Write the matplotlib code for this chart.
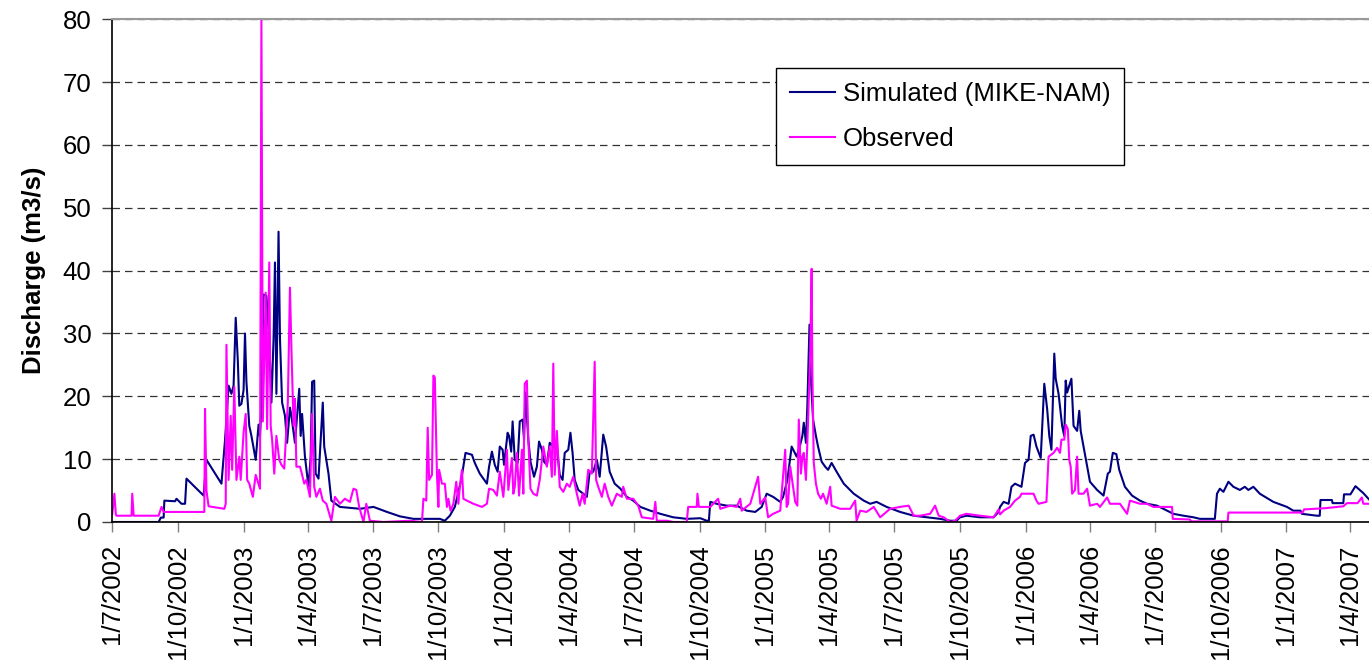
import numpy as np
import matplotlib.pyplot as plt
import matplotlib.dates as mdates
from matplotlib.ticker import FuncFormatter

plt.rcParams["font.family"] = ["Liberation Sans", "DejaVu Sans"]

# =========================
# DATA (day offset from START, discharge m3/s)
# =========================
START = np.datetime64("2002-07-01")
END_DAY = 1761

sim_points = [
    (0, 0), (65, 0), (68, 0.7), (72, 0.7), (73, 3.4), (88, 3.3), (90, 3.7), (97, 2.9), (102, 2.9),
    (104, 6.9), (128, 4.2), (132, 9.9), (153, 6.1), (158, 13), (163, 21.7), (167, 20.4), (170, 21.7),
    (173, 32.5), (176, 25.5), (178, 18.5), (181, 18.8), (184, 21), (186, 30), (188, 22.3), (192, 15.3),
    (195, 13.7), (201, 9.9), (205, 15.5), (207, 13.7), (209, 18.5), (212, 36.2), (216, 36), (220, 29),
    (223, 19), (226, 29), (228, 41.3), (230, 20.4), (233, 46.2), (235, 29.2), (238, 19), (242, 16.9),
    (245, 12.6), (249, 18.2), (251, 16.9), (256, 12.6), (262, 21.2), (264, 13.7), (266, 17.2),
    (270, 10.4), (275, 5.6), (278, 10.4), (280, 22.3), (283, 22.5), (285, 7.7), (289, 6.9), (295, 19),
    (297, 12), (303, 7.7), (307, 3.4), (319, 2.4), (347, 2.1), (366, 2.4), (385, 1.6), (403, 0.9),
    (422, 0.5), (459, 0.5), (466, 0.2), (473, 1.0), (480, 2.4), (489, 6.7), (492, 8.8), (495, 11),
    (504, 10.7), (508, 9.4), (515, 7.7), (525, 6.1), (528, 8.8), (532, 11.2), (536, 9.1), (540, 8),
    (543, 12), (547, 11.5), (549, 9.1), (554, 14.2), (556, 13.7), (559, 11.2), (561, 16), (564, 9.9),
    (568, 9.4), (571, 16), (575, 16.3), (577, 13.1), (579, 20.6), (583, 13.1), (586, 9.6), (591, 7.2),
    (595, 8.8), (598, 12.8), (602, 11.5), (605, 9.6), (609, 9.1), (613, 12.6), (618, 12), (623, 12),
    (627, 7.5), (631, 6.7), (634, 11), (639, 11.5), (642, 14.2), (645, 11), (648, 6.7), (653, 5.1),
    (660, 4.5), (665, 4), (669, 8), (674, 8), (679, 9.9), (683, 7.2), (688, 13.9), (692, 12), (697, 8),
    (704, 6.1), (712, 5.3), (721, 4), (730, 3.4), (740, 2.4), (754, 1.8), (768, 1.3), (786, 0.75),
    (805, 0.5), (824, 0.6), (833, 0.2), (836, 0.2), (838, 3.2), (847, 2.9), (861, 2.6), (875, 2.6),
    (889, 1.8), (901, 1.6), (910, 2.4), (917, 4.5), (926, 4), (936, 3.2), (940, 4), (946, 6.7),
    (952, 12), (959, 10.4), (964, 12.3), (967, 13.7), (969, 15.8), (972, 12.6), (974, 18.5),
    (977, 31.4), (979, 22.8), (982, 16.3), (986, 13.7), (989, 12), (994, 9.6), (999, 8.8), (1003, 8.3),
    (1008, 9.4), (1015, 8), (1025, 6.1), (1039, 4.5), (1053, 3.4), (1062, 2.9), (1071, 3.2),
    (1085, 2.4), (1104, 1.6), (1123, 1.0), (1141, 0.75), (1160, 0.5), (1174, 0.2), (1183, 0.2),
    (1188, 0.75), (1197, 1.0), (1216, 0.75), (1235, 0.75), (1242, 1.6), (1244, 2.4), (1249, 3.2),
    (1256, 2.9), (1260, 5.6), (1265, 6.1), (1274, 5.6), (1279, 9.4), (1284, 9.9), (1287, 13.7),
    (1291, 13.9), (1295, 12), (1301, 10.2), (1306, 22), (1310, 18), (1313, 13.7), (1316, 11.5),
    (1320, 26.8), (1322, 22.8), (1326, 20.4), (1331, 15.3), (1334, 13.7), (1336, 22.5), (1338, 20.6),
    (1341, 21.7), (1344, 22.8), (1347, 15.3), (1352, 14.5), (1355, 17.7), (1357, 14.5), (1361, 12),
    (1366, 8.8), (1370, 6.4), (1380, 5.1), (1389, 4.2), (1395, 7.7), (1398, 8), (1402, 11),
    (1407, 10.8), (1411, 8.3), (1419, 5.6), (1429, 4.2), (1440, 3.4), (1450, 2.9), (1464, 2.6),
    (1478, 1.8), (1487, 1.3), (1501, 1.0), (1515, 0.75), (1524, 0.5), (1545, 0.5), (1548, 4.5),
    (1552, 5.3), (1557, 4.8), (1564, 6.4), (1571, 5.6), (1580, 5.1), (1587, 5.6), (1592, 5.1),
    (1599, 5.6), (1608, 4.5), (1627, 3.2), (1646, 2.4), (1655, 1.8), (1665, 1.8), (1667, 1.3),
    (1688, 1.0), (1692, 1.0), (1693, 3.5), (1709, 3.5), (1710, 3.0), (1725, 3.0), (1726, 4.4),
    (1735, 4.4), (1742, 5.7), (1753, 4.6), (1761, 3.6),
]

obs_points = [
    (0, 1.3), (3, 4.5), (5, 1.2), (6, 1.0), (27, 1.0), (28, 4.5), (30, 1.0), (65, 1.0), (69, 2.4),
    (72, 1.6), (129, 1.6), (130, 18), (132, 5), (135, 2.5), (157, 2.1), (159, 2.9), (160, 28.2),
    (163, 6.7), (166, 16.9), (168, 8.3), (171, 21.5), (174, 6.7), (178, 10.4), (180, 6.7), (184, 14.2),
    (187, 17.2), (189, 6.7), (192, 6.1), (197, 4), (201, 7.5), (207, 5.3), (209, 80), (211, 16),
    (215, 36.5), (217, 14.8), (220, 41.3), (222, 15.3), (224, 13.1), (227, 7.7), (230, 13.7),
    (234, 9.9), (237, 9.1), (241, 8.5), (243, 12.6), (246, 19), (249, 37.3), (251, 27.9), (254, 15.3),
    (256, 19.6), (258, 8.8), (263, 8.8), (265, 8), (269, 6.1), (272, 6.7), (277, 4), (280, 17.2),
    (283, 5.6), (286, 4), (291, 5.3), (295, 3.4), (300, 2.9), (307, 0.2), (312, 4), (319, 2.9),
    (326, 3.7), (333, 3.2), (338, 5.3), (342, 5.1), (346, 2.4), (352, 0), (356, 2.9), (361, 0.2),
    (380, 0), (417, 0.2), (434, 0), (436, 3.7), (440, 3.4), (442, 15), (444, 6.7), (448, 7.5),
    (450, 23.3), (452, 23), (455, 7.5), (457, 2.4), (458, 8.3), (462, 6.1), (466, 6.1), (469, 2.4),
    (471, 3.7), (474, 1.8), (478, 2.9), (482, 6.4), (485, 2.9), (487, 5.6), (490, 8.3), (492, 3.7),
    (497, 3.4), (506, 2.9), (518, 2.4), (525, 2.9), (528, 5.3), (534, 5.1), (539, 4.2), (543, 8),
    (548, 4), (553, 11.5), (555, 5.1), (560, 10.2), (562, 4.5), (564, 5.6), (567, 11), (570, 4.2),
    (574, 11.5), (576, 4.5), (578, 22), (581, 22.5), (583, 13.1), (586, 5.3), (590, 4.5), (595, 4.2),
    (599, 6.7), (604, 12), (609, 8.8), (613, 12), (616, 7.2), (618, 25.2), (620, 7.5), (623, 14.5),
    (627, 5.6), (632, 4.8), (637, 6.1), (641, 5.6), (646, 7.2), (651, 4.5), (655, 2.6), (659, 4.5),
    (662, 2.9), (667, 8.3), (672, 7.7), (676, 25.5), (678, 6.7), (681, 5.6), (686, 4), (690, 6.1),
    (695, 4), (700, 2.6), (707, 4.5), (714, 4), (716, 5.6), (721, 3.7), (730, 3.7), (737, 2.6),
    (742, 0.75), (758, 0.5), (761, 3.2), (763, 0.2), (777, 0.2), (786, 0), (805, 0), (807, 2.4),
    (819, 2.4), (820, 4.5), (822, 2.4), (838, 2.4), (849, 3.7), (852, 2.1), (866, 2.6), (875, 2.4),
    (880, 3.7), (882, 1.8), (894, 2.9), (905, 7.2), (908, 2.9), (915, 3.9), (919, 0.75), (926, 1.3),
    (936, 1.8), (943, 11.5), (945, 2.4), (947, 2.9), (950, 8.8), (957, 3.2), (960, 2.6), (962, 16.3),
    (965, 7.7), (967, 10.4), (969, 11), (972, 6.7), (974, 12.6), (978, 26.6), (980, 40.3), (981, 23.9),
    (983, 9.4), (986, 6.1), (989, 4.5), (993, 3.7), (996, 4.5), (1001, 2.9), (1006, 5.6), (1008, 2.6),
    (1020, 2.1), (1034, 2.1), (1041, 3.4), (1043, 0.2), (1048, 1.8), (1057, 1.6), (1067, 2.4),
    (1076, 0.75), (1090, 2.1), (1104, 2.4), (1116, 2.6), (1123, 1.0), (1132, 1.0), (1146, 1.3),
    (1153, 2.6), (1158, 1.0), (1165, 0.75), (1174, 0), (1181, 0.2), (1188, 1.0), (1197, 1.3),
    (1216, 1.0), (1235, 0.75), (1242, 2.0), (1244, 1.2), (1249, 1.8), (1258, 2.4), (1265, 3.4),
    (1272, 4), (1274, 4.5), (1291, 4.5), (1295, 3.4), (1298, 2.9), (1309, 3.2), (1312, 10.4),
    (1319, 11), (1324, 11.8), (1328, 11), (1330, 13.1), (1334, 13.1), (1336, 15.5), (1339, 14.8),
    (1341, 9.9), (1343, 8.8), (1345, 4.5), (1349, 5.1), (1352, 10.4), (1354, 4.5), (1361, 4.5),
    (1366, 5.3), (1370, 2.6), (1380, 2.9), (1384, 2.4), (1394, 3.9), (1398, 2.9), (1412, 2.9),
    (1422, 1.3), (1426, 3.4), (1440, 2.9), (1450, 2.9), (1459, 2.4), (1468, 2.4), (1485, 2.4),
    (1486, 0.5), (1510, 0.4), (1512, 0.1), (1563, 0.1), (1564, 1.5), (1668, 1.5), (1670, 2.0),
    (1700, 2.2), (1725, 2.5), (1730, 3.0), (1745, 3.0), (1751, 3.9), (1753, 2.9), (1761, 2.9),
]

Y_TICKS = np.arange(0, 81, 10)

# =========================
# PREP
# =========================
sim = np.array(sim_points, dtype=float)
obs = np.array(obs_points, dtype=float)
sim_t = START + sim[:, 0].astype(int).astype("timedelta64[D]")
obs_t = START + obs[:, 0].astype(int).astype("timedelta64[D]")

# =========================
# PLOT
# =========================
fig = plt.figure(figsize=(13.69, 6.61), dpi=100)
ax = fig.add_axes([0.082, 0.2103, 0.918, 0.7605])

ax.plot(sim_t, sim[:, 1], color="#000080", linewidth=1.5, label="Simulated (MIKE-NAM)")
ax.plot(obs_t, obs[:, 1], color="#FF00FF", linewidth=1.5, label="Observed")

ax.set_xlim(START, START + np.timedelta64(END_DAY, "D"))
ax.set_ylim(0, 80)
ax.set_yticks(Y_TICKS)

ax.xaxis.set_major_locator(mdates.MonthLocator(bymonth=[1, 4, 7, 10], bymonthday=1))


def quarter_label(x, pos):
    d = mdates.num2date(x)
    return f"{d.day}/{d.month}/{d.year}"


ax.xaxis.set_major_formatter(FuncFormatter(quarter_label))
ax.tick_params(axis="x", labelrotation=90, labelsize=18.5, direction="out",
               length=7, width=1, color="#808080", pad=9)
ax.tick_params(axis="y", labelsize=18.5, direction="out", length=7, width=1,
               color="#404040", pad=8)

ax.yaxis.grid(True, color="#333333", linewidth=0.9, linestyle=(0, (6, 4)))
ax.set_axisbelow(True)

ax.spines["right"].set_visible(False)
ax.spines["top"].set_color("#999999")
ax.spines["top"].set_linewidth(1.5)
ax.spines["left"].set_color("black")
ax.spines["left"].set_linewidth(1.2)
ax.spines["bottom"].set_color("black")
ax.spines["bottom"].set_linewidth(1.2)

ax.set_ylabel("Discharge (m3/s)", fontsize=18.5, fontweight="bold", labelpad=12)

leg = ax.legend(loc="upper left", bbox_to_anchor=(0.528, 0.903), borderaxespad=0,
                fontsize=18.5, frameon=True, fancybox=False, framealpha=1,
                edgecolor="black", handlelength=1.75, handletextpad=0.3,
                borderpad=0.55, labelspacing=0.8)
leg.get_frame().set_linewidth(1.0)

fig.savefig("out.png", dpi=100)
